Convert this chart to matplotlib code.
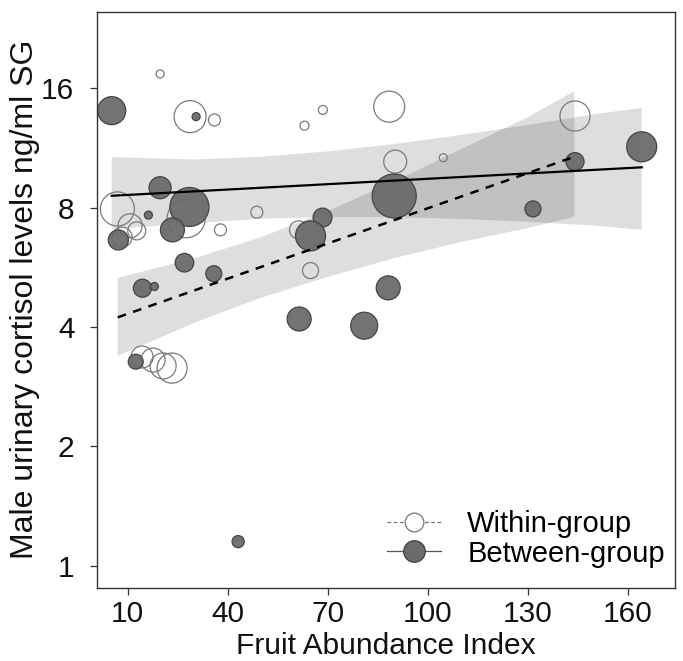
import matplotlib
matplotlib.use("Agg")
import matplotlib.pyplot as plt
from matplotlib.lines import Line2D
import numpy as np

plt.rcParams['font.family'] = ['Liberation Sans', 'DejaVu Sans']

# ---------------- data ----------------
# Within-group observations (open circles)
within_x = [19.7, 28.7, 36.0, 63.0, 68.5, 88.4, 90.2, 104.6, 144.1, 6.9, 10.7,
            12.7, 27.5, 48.7, 37.8, 61.2, 64.8, 14.3, 17.6, 20.6, 23.3, 8.3]
within_y = [17.39, 13.57, 13.31, 12.88, 14.11, 14.38, 10.45, 10.69, 13.62, 7.94, 7.20,
            6.99, 7.50, 7.79, 7.03, 7.03, 5.55, 3.36, 3.30, 3.19, 3.15, 6.74]
within_n = [1.0, 16.0, 2.25, 1.27, 1.27, 15.0, 8.27, 1.0, 14.1, 18.1, 9.0,
            5.06, 22.6, 2.25, 2.25, 5.06, 4.0, 7.56, 9.0, 10.6, 14.1, 6.25]

# Between-group observations (filled circles)
between_x = [5.2, 19.7, 30.5, 28.5, 16.2, 23.4, 7.2, 27.0, 35.8, 14.4, 18.0,
             12.4, 61.4, 80.9, 68.4, 64.8, 88.1, 89.9, 131.5, 144.1, 164.1, 43.1]
between_y = [14.05, 8.98, 13.57, 8.03, 7.66, 7.03, 6.63, 5.81, 5.45, 5.01, 5.06,
             3.27, 4.19, 4.03, 7.55, 6.79, 5.02, 8.56, 7.94, 10.45, 11.39, 1.15]
between_n = [12.3, 7.6, 1.0, 23.8, 1.0, 9.0, 6.3, 5.4, 4.0, 5.1, 1.0,
             3.5, 9.0, 11.4, 5.6, 14.1, 9.0, 30.3, 4.0, 5.1, 14.1, 2.3]

# Fitted lines (end points) and confidence bands
within_fit_x = [7.0, 143.9]
within_fit_y = [4.23, 10.75]
within_band_x = [7.0, 30, 50, 70, 90, 110, 130, 143.9]
within_band_lo = [3.38, 4.10, 4.74, 5.35, 5.97, 6.55, 7.11, 7.58]
within_band_hi = [5.32, 5.96, 6.74, 7.84, 9.33, 11.24, 13.54, 15.75]

between_fit_x = [5.2, 164.1]
between_fit_y = [8.57, 10.11]
between_band_x = [5.2, 30, 50, 70, 90, 110, 130, 150, 164.1]
between_band_lo = [7.07, 7.31, 7.50, 7.58, 7.57, 7.49, 7.37, 7.21, 7.03]
between_band_hi = [10.73, 10.58, 10.75, 11.09, 11.58, 12.20, 12.93, 13.77, 14.27]

x_ticks = [10, 40, 70, 100, 130, 160]
y_ticks = [1, 2, 4, 8, 16]
y_tick_labels = ["1", "2", "4", "8", "16"]
labels = ["Within-group", "Between-group"]

# ---------------- figure ----------------
fig = plt.figure(figsize=(6.83, 6.61), dpi=100)
ax = fig.add_axes([0.1416, 0.1109, 0.8463, 0.8714])

FS = 21.5
BAND_ALPHA = 0.13
SIZE_K = 33.2

ax.fill_between(between_band_x, between_band_lo, between_band_hi,
                facecolor='black', alpha=BAND_ALPHA, linewidth=0, zorder=1)
ax.fill_between(within_band_x, within_band_lo, within_band_hi,
                facecolor='black', alpha=BAND_ALPHA, linewidth=0, zorder=1)

ax.scatter(within_x, within_y, s=np.array(within_n) * SIZE_K,
           facecolors='none', edgecolors='#7a7a7a', linewidths=0.9, zorder=2)
ax.scatter(between_x, between_y, s=np.array(between_n) * SIZE_K,
           facecolors='#6b6b6b', edgecolors='#404040', linewidths=0.9,
           alpha=0.95, zorder=2)

ax.plot(within_fit_x, within_fit_y, color='black', lw=1.8, ls=(0, (3.5, 3)), zorder=3)
ax.plot(between_fit_x, between_fit_y, color='black', lw=1.6, ls='-', zorder=3)

ax.set_yscale('log', base=2)
ax.set_xlim(0.7, 174.0)
ax.set_ylim(0.880, 24.96)
ax.set_xticks(x_ticks)
ax.set_xticklabels([str(t) for t in x_ticks])
ax.set_yticks(y_ticks)
ax.set_yticklabels(y_tick_labels)
ax.yaxis.set_minor_locator(matplotlib.ticker.NullLocator())

for sp in ax.spines.values():
    sp.set_color('#333333')
    sp.set_linewidth(1.0)
ax.tick_params(axis='both', direction='out', length=5, width=0.9, color='#333333',
               labelsize=FS, labelcolor='#111111')
ax.tick_params(axis='y', pad=11)
ax.tick_params(axis='x', pad=4)

ax.set_xlabel("Fruit Abundance Index", fontsize=FS, color='#111111')
ax.set_ylabel("Male urinary cortisol levels ng/ml SG", fontsize=23, color='#111111')
ax.xaxis.set_label_coords(0.5, -0.077)
ax.yaxis.set_label_coords(-0.0985, 0.5)

h_within = Line2D([], [], color='#777777', lw=0.9, ls=(0, (3, 2)), marker='o',
                  markersize=13.5, markerfacecolor='white', markeredgecolor='#777777',
                  markeredgewidth=0.9)
h_between = Line2D([], [], color='#555555', lw=0.9, ls='-', marker='o',
                   markersize=15.5, markerfacecolor='#6b6b6b', markeredgecolor='#404040',
                   markeredgewidth=0.9)
ax.legend([h_within, h_between], labels, loc='lower right',
          bbox_to_anchor=(0.983, 0.035), frameon=False, fontsize=21,
          handlelength=1.85, handletextpad=0.9, labelspacing=0.05,
          borderpad=0, borderaxespad=0)

fig.savefig("out.png", dpi=100)
